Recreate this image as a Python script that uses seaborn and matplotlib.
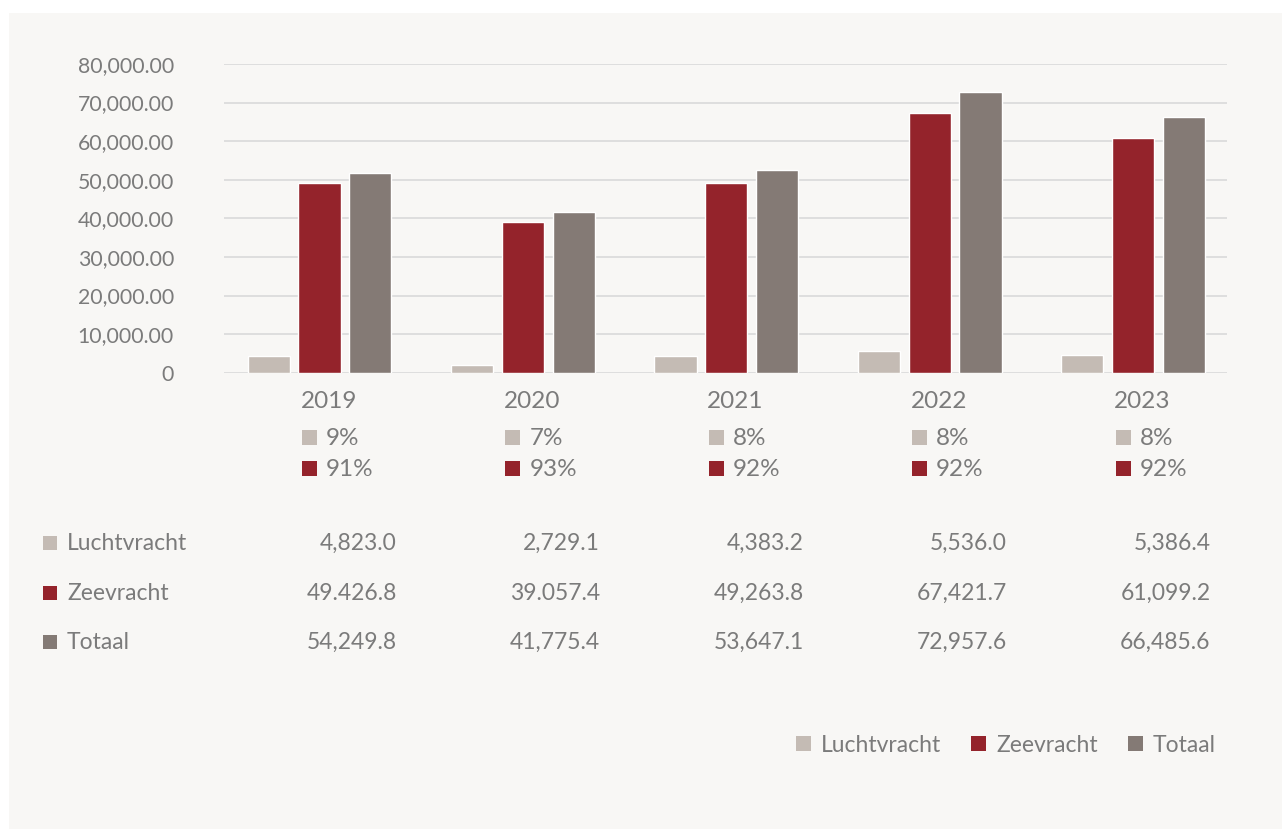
import numpy as np
import pandas as pd
import matplotlib
matplotlib.use("Agg")
import matplotlib.pyplot as plt
from matplotlib.patches import Rectangle
from matplotlib.ticker import FuncFormatter
from matplotlib.transforms import blended_transform_factory
import seaborn as sns

# data
years = ["2019", "2020", "2021", "2022", "2023"]
series = ["Luchtvracht", "Zeevracht", "Totaal"]
lucht = [4330, 1990, 4330, 5620, 4580]
zee = [49100, 39100, 49100, 67300, 60800]
totaal = [51750, 41700, 52500, 72700, 66250]

pct_lucht = ["9%", "7%", "8%", "8%", "8%"]
pct_zee = ["91%", "93%", "92%", "92%", "92%"]

tbl_lucht = ["4,823.0", "2,729.1", "4,383.2", "5,536.0", "5,386.4"]
tbl_zee = ["49.426.8", "39.057.4", "49,263.8", "67,421.7", "61,099.2"]
tbl_totaal = ["54,249.8", "41,775.4", "53,647.1", "72,957.6", "66,485.6"]

colors = ["#c4bbb4", "#94232b", "#847a75"]
text_col = "#7b7b7b"
bg = "#f8f7f5"
grid_col = "#dcdcdc"

df = pd.DataFrame({
    "jaar": years * 3,
    "soort": [s for s in series for _ in years],
    "waarde": lucht + zee + totaal,
})

sns.set_theme(style="white")
plt.rcParams["font.family"] = ["Lato", "DejaVu Sans"]

fig = plt.figure(figsize=(12.82, 8.30), dpi=100)
fig.patch.set_facecolor("white")
fig.patches.append(Rectangle((9 / 1282, 1 - 829 / 830), (1282 - 9) / 1282, (829 - 13) / 830,
                             transform=fig.transFigure, facecolor=bg, edgecolor="none", zorder=-10))

ax = fig.add_axes([224 / 1282, 1 - 372.7 / 830, (1227 - 224) / 1282, (372.7 - 64) / 830])
ax.set_facecolor("none")

sns.barplot(data=df, x="jaar", y="waarde", hue="soort", hue_order=series, order=years,
            palette=colors, saturation=1, width=0.75, gap=0.17, errorbar=None,
            legend=False, ax=ax, zorder=3)

ax.set_xlim(-0.4695, 4.4617)
ax.set_ylim(0, 80000)
ax.set_yticks(np.arange(0, 80001, 10000))
ax.yaxis.set_major_formatter(FuncFormatter(lambda v, p: "0" if v == 0 else f"{v:,.2f}"))
ax.set_axisbelow(True)
ax.grid(axis="y", color=grid_col, linewidth=1.3)
ax.grid(axis="x", visible=False)
for s in ax.spines.values():
    s.set_visible(False)
ax.tick_params(axis="y", length=0, pad=36, labelsize=15.3, labelcolor=text_col)
ax.set_xticks(np.arange(len(years)) + 0.045, years)
ax.tick_params(axis="x", length=0, pad=13, labelsize=17.5, labelcolor=text_col)
ax.set_xlabel("")
ax.set_ylabel("")

# percentage rows below the years
tr = blended_transform_factory(ax.transData, fig.transFigure)
sq_w = 15 / 203.4
sq_h = 15 / 830
for i in range(len(years)):
    for y_px, lab, col in [(438, pct_lucht[i], colors[0]), (469, pct_zee[i], colors[1])]:
        ax.add_patch(Rectangle((i - 0.086, 1 - (y_px + 7.5) / 830), sq_w, sq_h,
                               transform=tr, facecolor=col, edgecolor="none", clip_on=False))
        ax.text(i + 0.032, 1 - y_px / 830, lab, transform=tr, ha="left", va="center",
                fontsize=17.5, color=text_col)

# data table
rows = [(543, "Luchtvracht", tbl_lucht, colors[0]),
        (593, "Zeevracht", tbl_zee, colors[1]),
        (642, "Totaal", tbl_totaal, colors[2])]
for y_px, name, vals, col in rows:
    fig.patches.append(Rectangle((43 / 1282, 1 - (y_px + 7) / 830), 14 / 1282, 14 / 830,
                                 transform=fig.transFigure, facecolor=col, edgecolor="none"))
    fig.text(67 / 1282, 1 - y_px / 830, name, ha="left", va="center", fontsize=16.5, color=text_col)
    for i, v in enumerate(vals):
        ax.text(i + 0.38, 1 - y_px / 830, v, transform=tr, ha="right", va="center",
                fontsize=16.5, color=text_col)

# legend
handles = [Rectangle((0, 0), 1, 1, facecolor=c, edgecolor="none") for c in colors]
leg = fig.legend(handles, series, loc="center right", bbox_to_anchor=(1216 / 1282, 1 - 745 / 830),
                 ncol=3, frameon=False, fontsize=16.5, handlelength=0.65, handleheight=0.65,
                 handletextpad=0.45, columnspacing=1.3, borderpad=0, borderaxespad=0)
for t in leg.get_texts():
    t.set_color(text_col)

fig.savefig("out.png", dpi=100, facecolor=fig.get_facecolor())
